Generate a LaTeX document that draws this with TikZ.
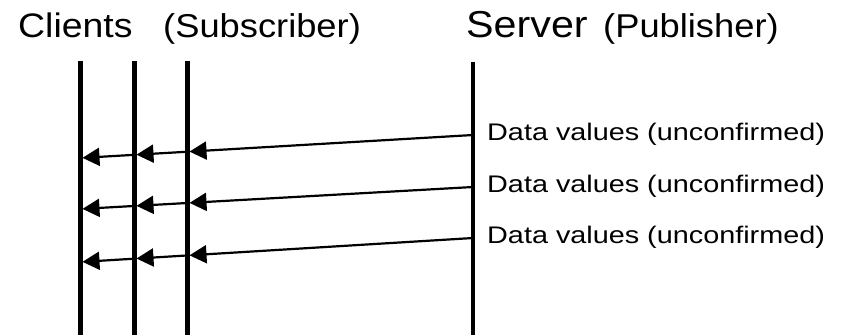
\documentclass[tikz,border=0pt]{standalone}
\usepackage{fontspec}
\setmainfont{Liberation Sans}
\newfontfamily\headfont[FakeStretch=1.1]{Liberation Sans}
\newfontfamily\msgfont[FakeStretch=1.2]{Liberation Sans}
\usetikzlibrary{arrows.meta,calc}

\tikzstyle{title} = [anchor=base west, inner sep=0pt, font=\headfont\fontsize{35}{38}\selectfont]
\tikzstyle{subtitle} = [anchor=base west, inner sep=0pt, font=\headfont\fontsize{33}{36}\selectfont]
\tikzstyle{msg} = [anchor=base west, inner sep=0pt, font=\msgfont\fontsize{24}{27}\selectfont]
\tikzstyle{lifeline} = [line width=5pt]
\tikzset{signal/.style={line width=2.2pt, arrows={-Triangle[length=17pt, width=18pt]}, shorten >=2.5pt}}

\begin{document}
\begin{tikzpicture}[x=1pt,y=-1pt]
    \useasboundingbox (0,0) rectangle (844,335);
    % Headings
    \node[title, font=\headfont\fontsize{34}{37}\selectfont] (clients) at (18,37) {Clients};
    \node[subtitle] (sub) at (163,37) {(Subscriber)};
    \node[title, font=\headfont\fontsize{37.5}{40}\selectfont] (server) at (466,37) {Server};
    \node[subtitle] (pub) at (603,37) {(Publisher)};
    % Lifelines
    \foreach \i/\x in {1/80, 2/134, 3/187} {
      \coordinate (c\i top) at (\x,61);
      \coordinate (c\i bot) at (\x,335);
      \draw[lifeline] (c\i top) -- (c\i bot);
    }
    \coordinate (stop) at (473,62);
    \coordinate (sbot) at (473,335);
    \draw[line width=4.2pt] (stop) -- (sbot);
    % Messages
    \foreach \i/\ys/\ye/\yt in {1/135/158/140, 2/187/209/192, 3/238/262/243} {
      \coordinate (s\i) at (473,\ys);
      \coordinate (e\i) at (80,\ye);
      \coordinate (m\i3) at ($(s\i)!0.7277!(e\i)$);
      \coordinate (m\i2) at ($(s\i)!0.8626!(e\i)$);
      \draw[signal] (s\i) -- (m\i3);
      \draw[signal] (m\i3) -- (m\i2);
      \draw[signal] (m\i2) -- (e\i);
      \node[msg] (data\i) at (487,\yt) {Data values (unconfirmed)};
    }
\end{tikzpicture}
\end{document}
